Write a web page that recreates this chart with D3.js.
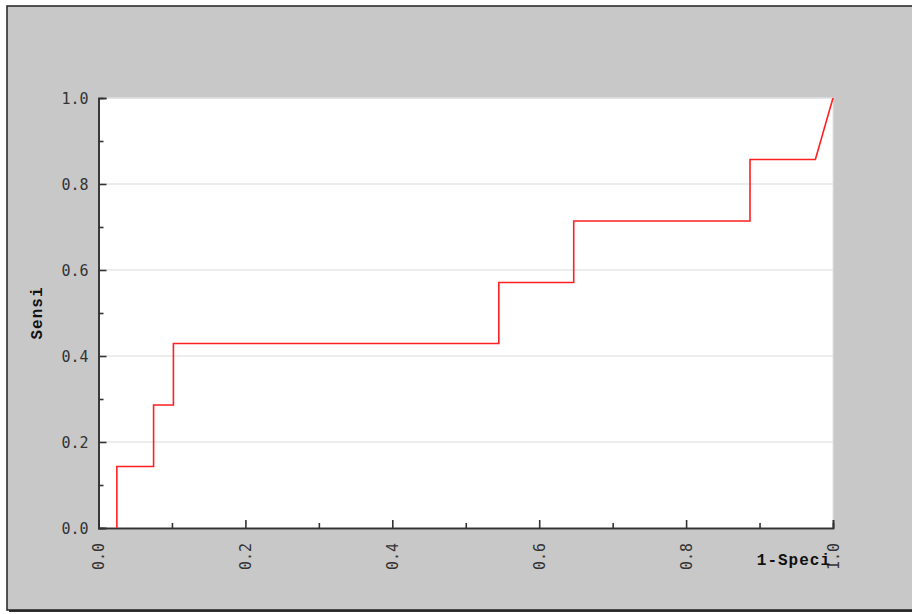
<!DOCTYPE html>
<html>
<head>
<meta charset="utf-8">
<script src="https://cdn.jsdelivr.net/npm/d3@7"></script>
<style>
  html, body { margin: 0; padding: 0; background: #ffffff; }
  svg { display: block; }
  .tick text { font-family: "DejaVu Sans Mono", monospace; font-size: 15px; fill: #333; }
  .axisTitle { font-family: "Liberation Mono", "DejaVu Sans Mono", monospace; font-size: 16px; font-weight: bold; fill: #111; }
</style>
</head>
<body>
<div id="chart"></div>
<script>
// ROC curve points (1 - specificity, sensitivity)
var fpr = [0.025, 0.025, 0.075, 0.075, 0.102, 0.102, 0.545, 0.545, 0.647, 0.647, 0.887, 0.887, 0.976, 1.0];
var tpr = [0, 0.143, 0.143, 0.286, 0.286, 0.429, 0.429, 0.571, 0.571, 0.714, 0.714, 0.857, 0.857, 1.0];
var yTicks = [0, 0.2, 0.4, 0.6, 0.8, 1.0];
var xTicks = [0, 0.2, 0.4, 0.6, 0.8, 1.0];
var xTitle = "1-Speci";
var yTitle = "Sensi";

var W = 912, H = 614;
var plotLeft = 98.5, plotRight = 833, plotTop = 98, plotBottom = 528;

var svg = d3.select("#chart").append("svg")
  .attr("width", W)
  .attr("height", H);

// outer frame with shadow
svg.append("rect")
  .attr("x", 9).attr("y", 9)
  .attr("width", W).attr("height", H - 11)
  .attr("fill", "#333");
svg.append("rect")
  .attr("x", 7).attr("y", 6)
  .attr("width", W).attr("height", H - 10)
  .attr("fill", "#c8c8c8")
  .attr("stroke", "#222")
  .attr("stroke-width", 1.5);

var x = d3.scaleLinear().domain([0, 1]).range([plotLeft, plotRight]);
var y = d3.scaleLinear().domain([0, 1]).range([plotBottom, plotTop]);

// plot background
svg.append("rect")
  .attr("x", x(0)).attr("y", y(1))
  .attr("width", x(1) - x(0)).attr("height", y(0) - y(1))
  .attr("fill", "#fff")
  .attr("stroke", "#e2e2e2")
  .attr("stroke-width", 1);

// horizontal grid
svg.append("g")
  .selectAll("line")
  .data(yTicks.slice(1))
  .enter()
  .append("line")
  .attr("x1", x(0)).attr("x2", x(1))
  .attr("y1", function(d) { return y(d); })
  .attr("y2", function(d) { return y(d); })
  .attr("stroke", "#dcdcdc")
  .attr("stroke-width", 1.2);

// axes: ticks point inward, minor ticks every 0.1
var yAxis = d3.axisLeft(y).tickValues(yTicks).tickFormat(d3.format(".1f")).tickSize(-8).tickPadding(10);
var yMinor = d3.axisLeft(y).tickValues(d3.range(0.1, 1, 0.2)).tickFormat("").tickSize(-5);
var xAxis = d3.axisBottom(x).tickValues(xTicks).tickFormat(d3.format(".1f")).tickSize(-8);
var xMinor = d3.axisBottom(x).tickValues(d3.range(0.1, 1, 0.2)).tickFormat("").tickSize(-5);

function styleAxis(g) {
  g.select(".domain").attr("stroke", "#333").attr("stroke-width", 1.6);
  g.selectAll(".tick line").attr("stroke", "#333").attr("stroke-width", 1.6);
}

svg.append("g").attr("transform", "translate(" + x(0) + ",0)").call(yMinor).call(styleAxis);
svg.append("g").attr("transform", "translate(0," + y(0) + ")").call(xMinor).call(styleAxis);

var gy = svg.append("g").attr("transform", "translate(" + x(0) + ",0)").call(yAxis).call(styleAxis);
gy.selectAll(".tick text").attr("dy", "0.35em");

var gx = svg.append("g").attr("transform", "translate(0," + y(0) + ")").call(xAxis).call(styleAxis);
gx.selectAll(".tick text")
  .attr("transform", "rotate(-90)")
  .attr("text-anchor", "end")
  .attr("x", -15)
  .attr("y", 0)
  .attr("dy", "0.35em");

// ROC line
var pts = fpr.map(function(d, i) { return [d, tpr[i]]; });
var line = d3.line()
  .x(function(d) { return x(d[0]); })
  .y(function(d) { return y(d[1]); });
svg.append("path")
  .datum(pts)
  .attr("d", line)
  .attr("fill", "none")
  .attr("stroke", "#ff2020")
  .attr("stroke-width", 1.6);

// titles
svg.append("text")
  .attr("class", "axisTitle")
  .attr("transform", "translate(42," + ((plotTop + plotBottom) / 2) + ") rotate(-90)")
  .attr("text-anchor", "middle")
  .attr("letter-spacing", "1")
  .text(yTitle);

svg.append("text")
  .attr("class", "axisTitle")
  .attr("x", 831)
  .attr("y", 565)
  .attr("text-anchor", "end")
  .attr("letter-spacing", "1")
  .text(xTitle);
</script>
</body>
</html>
